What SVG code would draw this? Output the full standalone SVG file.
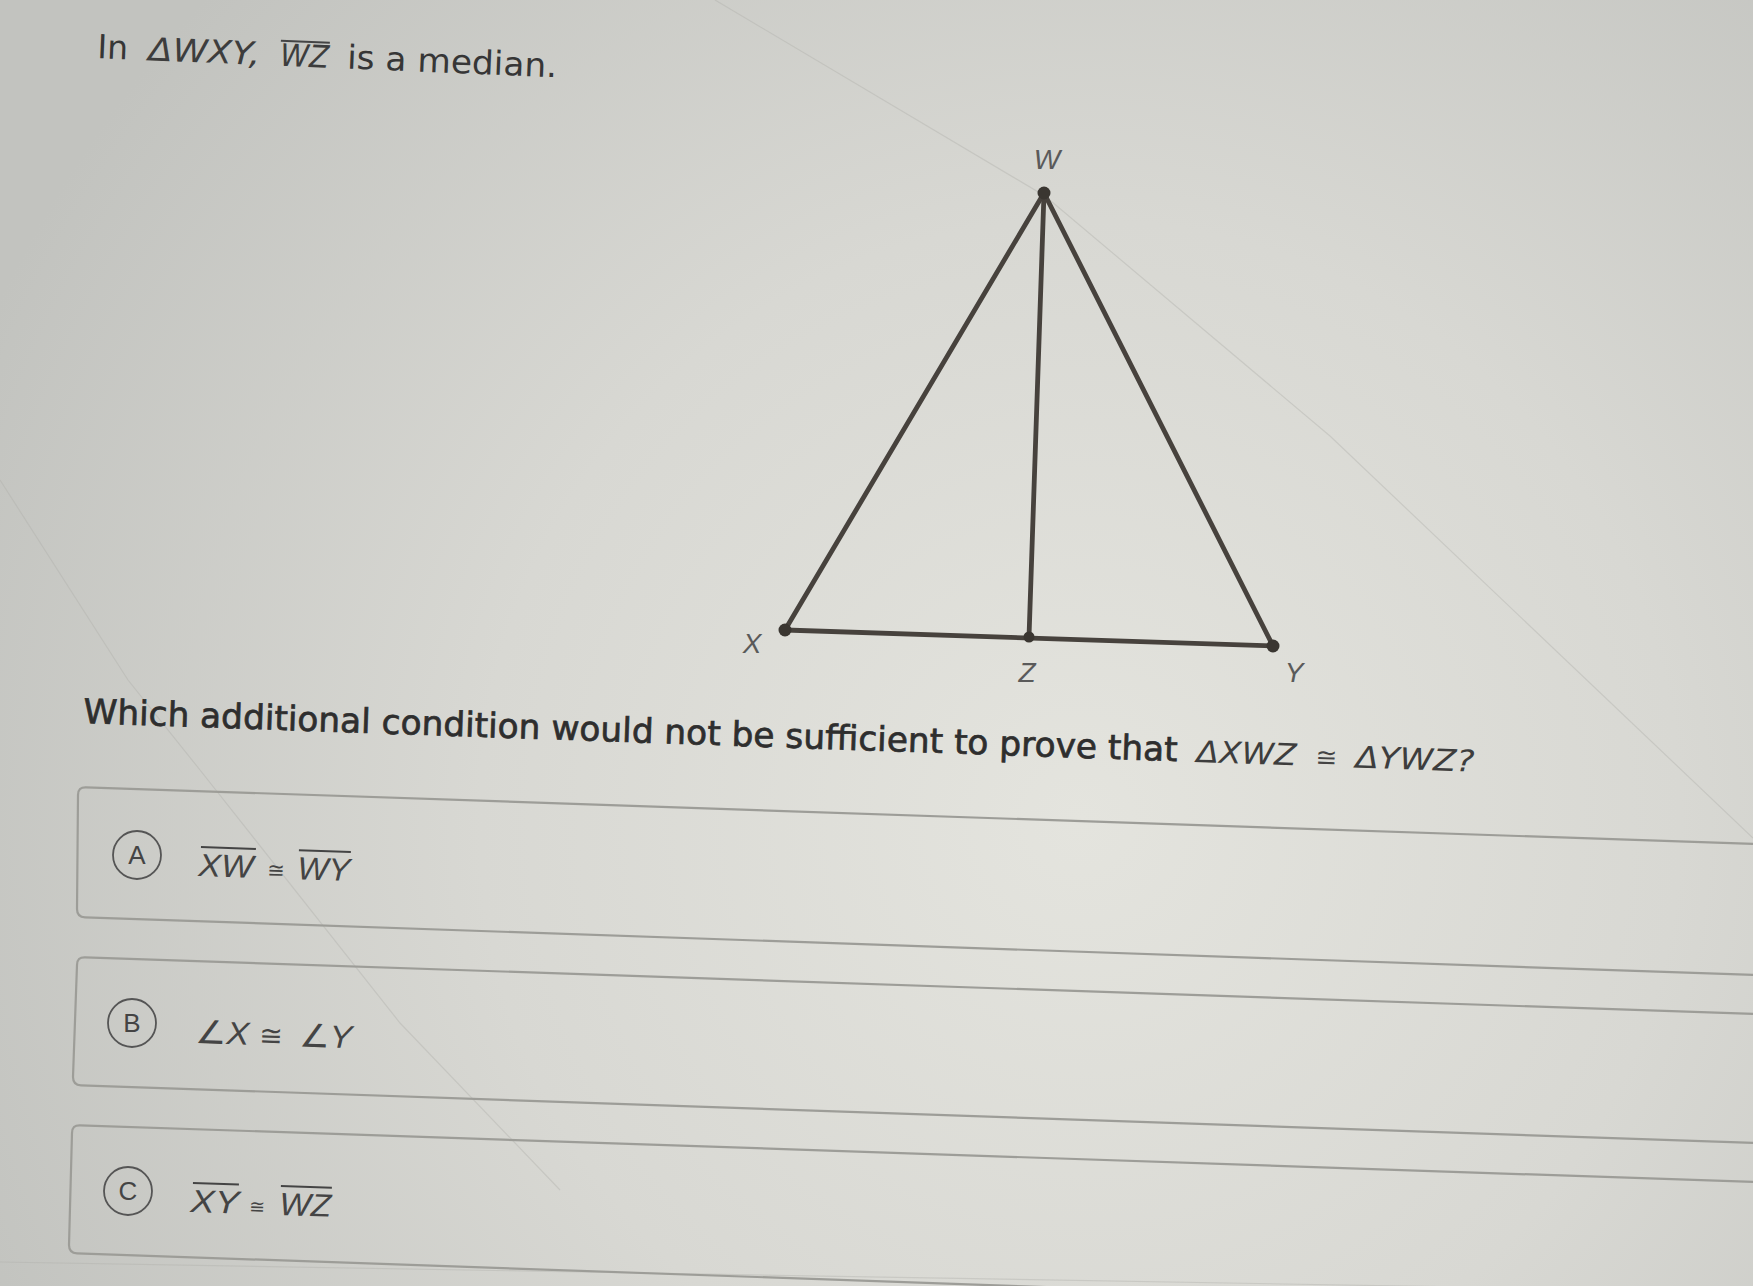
<svg xmlns="http://www.w3.org/2000/svg" width="1753" height="1286" viewBox="0 0 1753 1286">
  <defs>
    <radialGradient id="bg" cx="1080" cy="820" r="1200" gradientUnits="userSpaceOnUse">
      <stop offset="0" stop-color="#e4e4de"/>
      <stop offset="0.5" stop-color="#d8d8d3"/>
      <stop offset="1" stop-color="#c2c3bf"/>
    </radialGradient>
    <style>
      .txt { font-family: "DejaVu Sans", Verdana, sans-serif; fill: #363636; }
      .q { font-family: "DejaVu Sans", Verdana, sans-serif; fill: #2e2e2e; stroke: #2e2e2e; stroke-width: 0.7; }
      .math { font-family: "DejaVu Sans", sans-serif; font-style: oblique; fill: #3d3d3d; }
      .lbl { font-family: "Liberation Sans", Arial, sans-serif; font-style: italic; font-size: 28px; fill: #5a5a5a; }
      .opt { font-family: "Liberation Sans", "DejaVu Sans", Arial, sans-serif; font-style: italic; font-size: 32px; fill: #444; }
      .cong { font-family: "DejaVu Sans", sans-serif; fill: #444; }
      .bar { stroke: #444; stroke-width: 2; }
      .box { fill: none; stroke: #9d9d98; stroke-width: 2.2; }
      .badge { fill: none; stroke: #555; stroke-width: 1.8; }
      .badgeTxt { font-family: "Liberation Sans", Arial, sans-serif; font-size: 26px; fill: #444; text-anchor: middle; }
      .seg { stroke: #47423d; stroke-width: 4.8; stroke-linecap: round; fill: none; }
      .dot { fill: #3a3631; }
      .glare { fill: none; stroke: #b0b0ab; stroke-width: 1.2; opacity: 0.4; }
    </style>
  </defs>

  <rect x="0" y="0" width="1753" height="1286" fill="url(#bg)"/>

  <!-- faint screen reflections -->
  <polyline class="glare" points="715,0 1045,196 1330,436 1753,838"/>
  <polyline class="glare" points="0,480 128,680 200,770 400,1023 560,1190"/>
  <line class="glare" x1="0" y1="1262" x2="1753" y2="1292"/>

  <!-- title -->
  <g id="title" transform="rotate(2.4 97 58)">
    <text class="txt" x="97" y="58" font-size="33">In</text>
    <text class="math" x="148" y="58" font-size="32" textLength="112" lengthAdjust="spacingAndGlyphs">ΔWXY,</text>
    <text class="math" x="280" y="58" font-size="31" textLength="49" lengthAdjust="spacingAndGlyphs">WZ</text>
    <line class="bar" x1="280" y1="33" x2="329" y2="33"/>
    <text class="txt" x="347" y="58" font-size="33" textLength="210" lengthAdjust="spacingAndGlyphs">is a median.</text>
  </g>

  <!-- connectors: triangle sides and median -->
  <g id="connectors">
    <line id="XW" class="seg" x1="785" y1="630" x2="1044" y2="193"/>
    <line id="WY" class="seg" x1="1044" y1="193" x2="1273" y2="646"/>
    <line id="XY" class="seg" x1="785" y1="630" x2="1273" y2="646"/>
    <line id="WZ" class="seg" x1="1044" y1="193" x2="1029" y2="637"/>
  </g>

  <!-- vertices -->
  <g id="node-W">
    <circle class="dot" cx="1044" cy="193" r="6.5"/>
    <text class="lbl" x="1047" y="169" text-anchor="middle">W</text>
  </g>
  <g id="node-X">
    <circle class="dot" cx="785" cy="630" r="6.5"/>
    <text class="lbl" x="752" y="653" text-anchor="middle">X</text>
  </g>
  <g id="node-Z">
    <circle class="dot" cx="1029" cy="637" r="5.5"/>
    <text class="lbl" x="1027" y="682" text-anchor="middle">Z</text>
  </g>
  <g id="node-Y">
    <circle class="dot" cx="1273" cy="646" r="6.5"/>
    <text class="lbl" x="1294" y="682" text-anchor="middle">Y</text>
  </g>

  <!-- question -->
  <g id="question" transform="rotate(2.0 83 723)">
    <text class="q" x="83" y="723" font-size="34" textLength="1095" lengthAdjust="spacingAndGlyphs">Which additional condition would not be sufficient to prove that</text>
    <text class="math" x="1197" y="723" font-size="30" textLength="100" lengthAdjust="spacingAndGlyphs">ΔXWZ</text>
    <text class="cong" x="1316" y="723" font-size="26">≅</text>
    <text class="math" x="1356" y="723" font-size="30" textLength="119" lengthAdjust="spacingAndGlyphs">ΔYWZ?</text>
  </g>

  <!-- option A -->
  <g id="option-A">
    <path class="box" d="M86,787.3 L1760,844.2 L1760,975.2 L85,917.3 Q77,917 77,909 L78,795 Q78,787 86,787.3 Z"/>
    <circle class="badge" cx="137" cy="855" r="24"/>
    <text class="badgeTxt" x="137" y="864">A</text>
    <g transform="rotate(1.9 198 876)">
      <text class="opt" x="198" y="876" textLength="55" lengthAdjust="spacingAndGlyphs">XW</text>
      <line class="bar" x1="200" y1="847" x2="255" y2="847"/>
      <text class="cong" x="267" y="875" font-size="21">≅</text>
      <text class="opt" x="297" y="876" textLength="53" lengthAdjust="spacingAndGlyphs">WY</text>
      <line class="bar" x1="298" y1="847" x2="350" y2="847"/>
    </g>
  </g>

  <!-- option B -->
  <g id="option-B">
    <path class="box" d="M85,957.3 L1760,1014.2 L1760,1143.2 L81,1085.3 Q73,1085 73,1077 L77,965 Q77,957 85,957.3 Z"/>
    <circle class="badge" cx="132" cy="1023" r="24"/>
    <text class="badgeTxt" x="132" y="1032">B</text>
    <g transform="rotate(1.9 195 1043)">
      <text class="opt" x="195" y="1043" textLength="54" lengthAdjust="spacingAndGlyphs">∠X</text>
      <text class="cong" x="259" y="1043" font-size="28">≅</text>
      <text class="opt" x="299" y="1043" textLength="53" lengthAdjust="spacingAndGlyphs">∠Y</text>
    </g>
  </g>

  <!-- option C -->
  <g id="option-C">
    <path class="box" d="M80,1125.3 L1760,1182.2 L1760,1312 L77,1253.3 Q69,1253 69,1245 L72,1133 Q72,1125 80,1125.3 Z"/>
    <circle class="badge" cx="128" cy="1191" r="24"/>
    <text class="badgeTxt" x="128" y="1200">C</text>
    <g transform="rotate(1.9 190 1212)">
      <text class="opt" x="190" y="1212" textLength="49" lengthAdjust="spacingAndGlyphs">XY</text>
      <line class="bar" x1="192" y1="1183" x2="238" y2="1183"/>
      <text class="cong" x="249" y="1211" font-size="19">≅</text>
      <text class="opt" x="279" y="1212" textLength="52" lengthAdjust="spacingAndGlyphs">WZ</text>
      <line class="bar" x1="280" y1="1183" x2="331" y2="1183"/>
    </g>
  </g>
</svg>
